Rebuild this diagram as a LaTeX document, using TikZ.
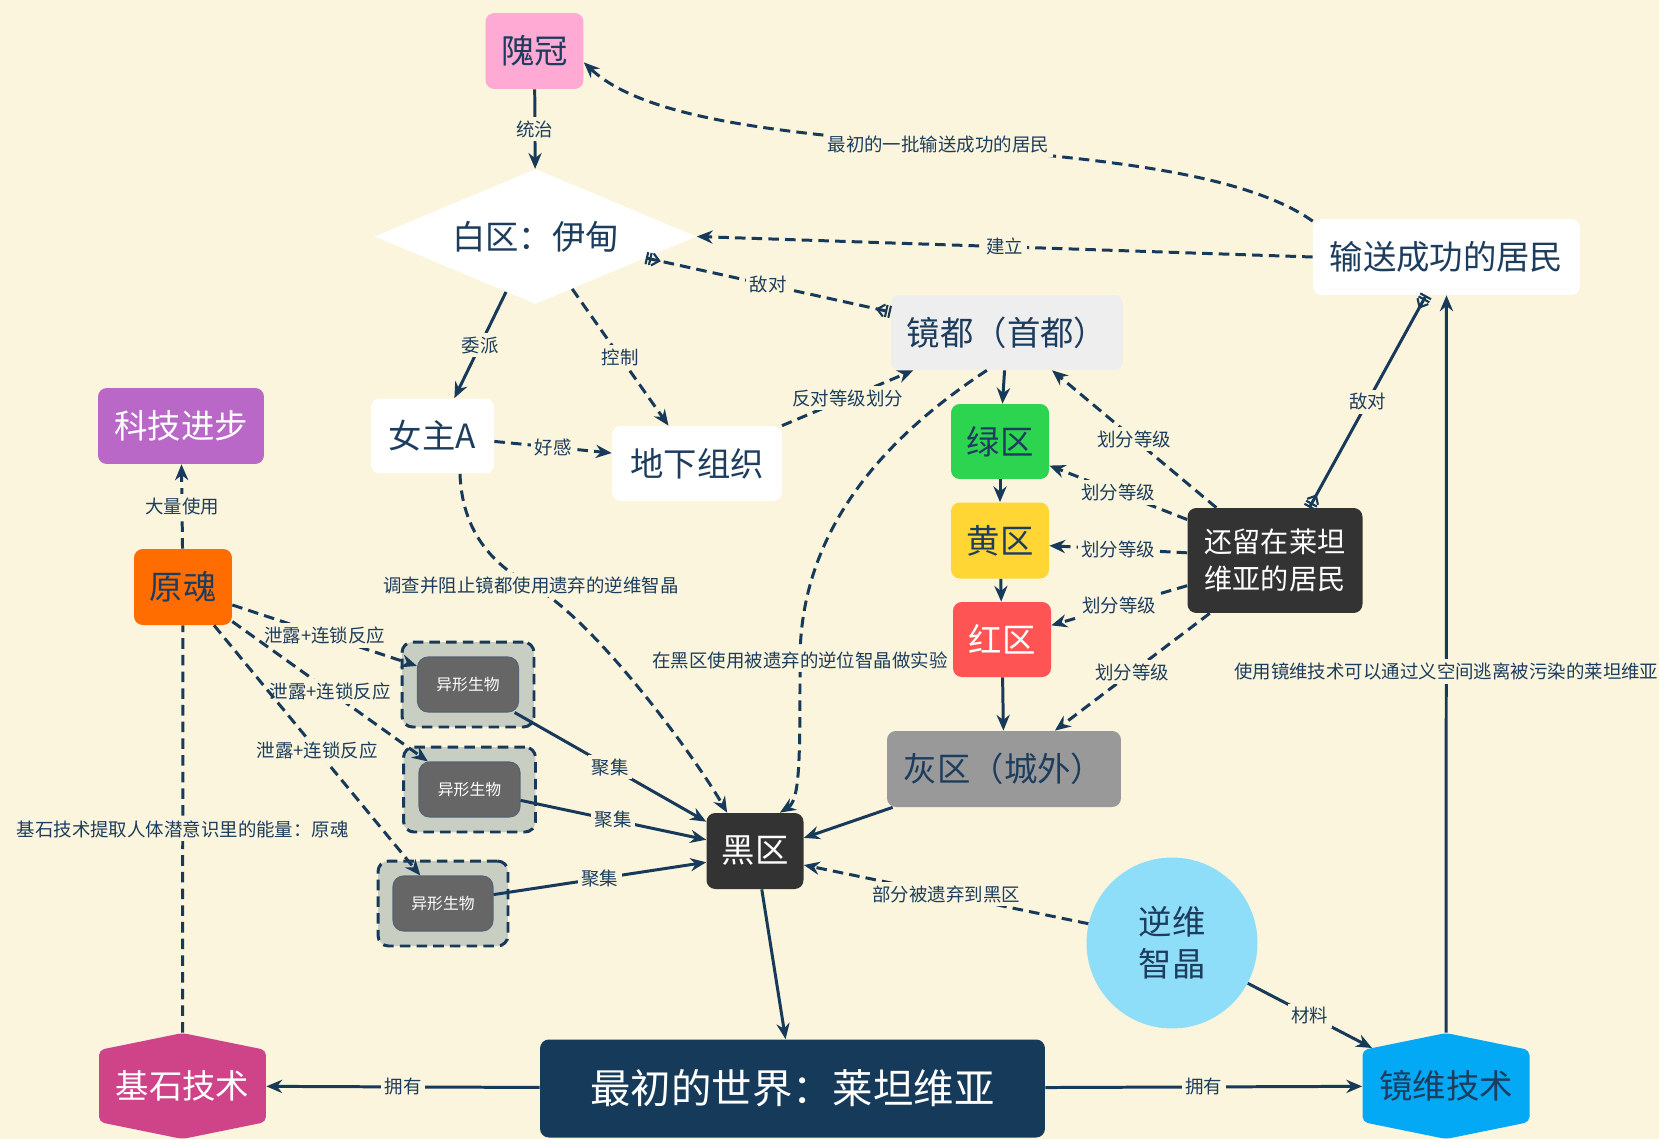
\documentclass[tikz,border=0pt]{standalone}
\usepackage{fontspec}
\setmainfont{Noto Sans CJK SC}
\usetikzlibrary{arrows.meta,shapes.geometric,calc}

\definecolor{bg}{HTML}{FAF5DC}
\definecolor{ink}{HTML}{17395A}
\definecolor{txt}{HTML}{1D3D5E}
\definecolor{weiguanc}{HTML}{FFAAD4}
\definecolor{jingduc}{HTML}{EEEEEE}
\definecolor{lvc}{HTML}{2DD44F}
\definecolor{huangc}{HTML}{FFD633}
\definecolor{hongc}{HTML}{FF5454}
\definecolor{darkc}{HTML}{333333}
\definecolor{huic}{HTML}{999999}
\definecolor{nwc}{HTML}{8FDEF9}
\definecolor{worldc}{HTML}{163A59}
\definecolor{jishic}{HTML}{CF4489}
\definecolor{jingweic}{HTML}{03A9F4}
\definecolor{kejic}{HTML}{BA68C8}
\definecolor{yuanhunc}{HTML}{FF6D00}
\definecolor{alienc}{HTML}{666666}
\definecolor{framec}{HTML}{C9CEC3}

\tikzset{crow/.tip={Straight Barb[reversed,length=4pt,width=7pt,line width=1.2pt] Bar[width=7pt,line width=1.2pt,sep=0.8pt] Bar[width=7pt,line width=1.2pt]}}

\begin{document}
\begin{tikzpicture}[x=0.02cm,y=-0.02cm,
  >={Stealth[length=9pt,width=7.5pt]},
  box/.style={rectangle,rounded corners=5pt,inner sep=2pt,text=txt,align=center,font=\fontsize{19}{23}\selectfont},
  lab/.style={fill=bg,inner sep=2pt,text=txt,font=\fontsize{10.5}{12}\selectfont},
  con/.style={draw=ink,line width=1.7pt},
  dline/.style={con,dash pattern=on 6pt off 3.5pt},
  alien/.style={rectangle,rounded corners=6pt,fill=alienc,draw=ink!40!gray,line width=0.6pt,text=white,minimum width=2.02cm,minimum height=1.1cm,font=\fontsize{9}{11}\selectfont},
  alienframe/.style={rectangle,rounded corners=6pt,fill=framec,draw=ink,line width=1.7pt,dash pattern=on 6pt off 3.5pt,minimum width=2.64cm,minimum height=1.7cm},
  hexnode/.style={rectangle,fill=bg,inner sep=0pt,minimum width=3.34cm,minimum height=2.12cm,font=\fontsize{19}{23}\selectfont,
    path picture={\fill[#1,rounded corners=3pt] ([yshift=0.72cm]path picture bounding box.east) -- (path picture bounding box.north) -- ([yshift=0.72cm]path picture bounding box.west) -- ([yshift=-0.72cm]path picture bounding box.west) -- (path picture bounding box.south) -- ([yshift=-0.72cm]path picture bounding box.east) -- cycle;}}]
\useasboundingbox (0,0) rectangle (1659,1139);
\fill[bg] (0,0) rectangle (1659,1139);

% nodes
\node[box,fill=weiguanc,minimum width=1.96cm,minimum height=1.52cm] (weiguan) at (534.5,51) {隗冠};
\node[shape=diamond,aspect=3,fill=white,inner sep=0pt,text=txt,minimum width=6.44cm,minimum height=2.7cm,font=\fontsize{19}{23}\selectfont] (baiqu) at (535.5,236.5) {白区：伊甸};
\node[box,fill=white,minimum width=5.34cm,minimum height=1.52cm] (shusong) at (1446.5,257) {输送成功的居民};
\node[box,fill=jingduc,minimum width=4.64cm,minimum height=1.5cm] (jingdu) at (1007,332.5) {镜都（首都）};
\node[box,fill=white,minimum width=2.46cm,minimum height=1.5cm] (nvzhu) at (432.5,436) {女主A};
\node[box,fill=white,minimum width=3.4cm,minimum height=1.5cm] (dixia) at (697,463.5) {地下组织};
\node[box,fill=kejic,text=white,minimum width=3.32cm,minimum height=1.52cm] (keji) at (181,426) {科技进步};
\node[box,fill=yuanhunc,minimum width=1.96cm,minimum height=1.52cm] (yuanhun) at (183,587) {原魂};
\node[box,fill=lvc,minimum width=1.96cm,minimum height=1.5cm] (lvqu) at (1000,441.5) {绿区};
\node[box,fill=huangc,minimum width=1.96cm,minimum height=1.52cm] (huangqu) at (1000,540.5) {黄区};
\node[box,fill=hongc,text=white,minimum width=1.96cm,minimum height=1.5cm] (hongqu) at (1002,639.5) {红区};
\node[box,fill=darkc,text=white,minimum width=3.5cm,minimum height=2.1cm,font=\fontsize{16}{21}\selectfont] (liu) at (1275,560.5) {还留在莱坦\\维亚的居民};
\node[box,fill=huic,minimum width=4.68cm,minimum height=1.52cm] (huiqu) at (1004,769) {灰区（城外）};
\node[box,fill=darkc,text=white,minimum width=1.94cm,minimum height=1.52cm] (heiqu) at (755,851) {黑区};
\node[circle,fill=nwc,text=txt,align=center,minimum size=3.42cm,font=\fontsize{19}{24}\selectfont] (nw) at (1172,943) {逆维\\智晶};
\node[box,fill=worldc,text=white,minimum width=10.1cm,minimum height=1.96cm,font=\fontsize{23}{28}\selectfont] (world) at (792.5,1088.5) {最初的世界：莱坦维亚};
\node[hexnode=jishic,text=white] (jishi) at (182.5,1086) {基石技术};
\node[hexnode=jingweic,text=txt] (jingwei) at (1446,1086) {镜维技术};

\node[alienframe] (frame1) at (468,684.5) {};
\node[alien] (alien1) at (468,684.5) {异形生物};
\node[alienframe] (frame2) at (469.5,789.5) {};
\node[alien] (alien2) at (469.5,789.5) {异形生物};
\node[alienframe,minimum width=2.6cm] (frame3) at (443,903.5) {};
\node[alien,minimum width=2cm] (alien3) at (443,903.5) {异形生物};

% connectors, top part
\draw[con,->] (weiguan) -- node[lab]{统治} (baiqu);
\draw[dline,->] (shusong.165) .. controls (1170,120) and (700,172) .. node[lab]{最初的一批输送成功的居民} (weiguan.-13);
\draw[dline,->] (shusong.west) -- node[lab]{建立} (baiqu.east);
\draw[dline,crow-crow] (baiqu.-11) -- node[lab]{敌对} (jingdu.170);
\draw[con,->] (baiqu.242) -- node[lab]{委派} (nvzhu.60);
\draw[dline,->] (baiqu.-55) -- node[lab]{控制} (dixia.127);
\draw[dline,->] (nvzhu.-5) -- node[lab]{好感} (dixia.173);
\draw[dline,->] (dixia.24) -- node[lab]{反对等级划分} (jingdu.202);
\draw[dline,->] (nvzhu.-54) .. controls (462,530) and (491,564) .. (531,585) node[lab]{调查并阻止镜都使用遗弃的逆维智晶} .. controls (591,616) and (692,752) .. (heiqu.126);
\draw[dline,->] (jingdu.242) .. controls (850,460) and (800,560) .. (800,660) node[lab]{在黑区使用被遗弃的逆位智晶做实验} .. controls (800,760) and (800,800) .. (heiqu.57);

% zones
\draw[con,->] (jingdu) -- (lvqu);
\draw[con,->] (lvqu) -- (huangqu);
\draw[con,->] (huangqu) -- (hongqu);
\draw[con,->] (hongqu) -- (huiqu);
\draw[dline,->] (liu.138) -- node[lab]{划分等级} (jingdu.-40);
\draw[dline,->] (liu.155) -- node[lab]{划分等级} (lvqu.-26);
\draw[dline,->] (liu.175) -- node[lab]{划分等级} (huangqu.-6);
\draw[dline,->] (liu.196) -- node[lab]{划分等级} (hongqu.16);
\draw[dline,->] (liu.219) -- node[lab]{划分等级} (huiqu.37);
\draw[con,crow-crow] (liu.57) -- node[lab]{敌对} (shusong.242);
\draw[con,->] (jingwei) -- node[lab,pos=0.49]{使用镜维技术可以通过义空间逃离被污染的莱坦维亚} (shusong);

% black zone and bottom
\draw[con,->] (huiqu.199) -- (heiqu.15);
\draw[dline,->] (nw.167) -- node[lab]{部分被遗弃到黑区} (heiqu.-16);
\draw[con,->] (nw.-28) -- node[lab]{材料} ($(jingwei)+(-74,-38)$);
\draw[con,->] (heiqu.-80) -- (world.98);
\draw[con,->] (world) -- node[lab]{拥有} (jishi);
\draw[con,->] (world) -- node[lab]{拥有} (jingwei);

% left part
\draw[dline] (jishi) -- node[lab]{基石技术提取人体潜意识里的能量：原魂} (yuanhun);
\draw[dline,->] (yuanhun) -- node[lab]{大量使用} (keji);
\draw[dline,->] (yuanhun.-20) -- node[lab]{泄露+连锁反应} (alien1.160);
\draw[dline,->] (yuanhun.-35) -- node[lab]{泄露+连锁反应} (alien2.146);
\draw[dline,->] (yuanhun.-51) -- node[lab]{泄露+连锁反应} (alien3.129);
\draw[con,->] (alien1.-31) -- node[lab]{聚集} (heiqu.149);
\draw[con,->] (alien2.-12) -- node[lab]{聚集} (heiqu.167);
\draw[con,->] (alien3.10) -- node[lab]{聚集} (heiqu.193);
\end{tikzpicture}
\end{document}
